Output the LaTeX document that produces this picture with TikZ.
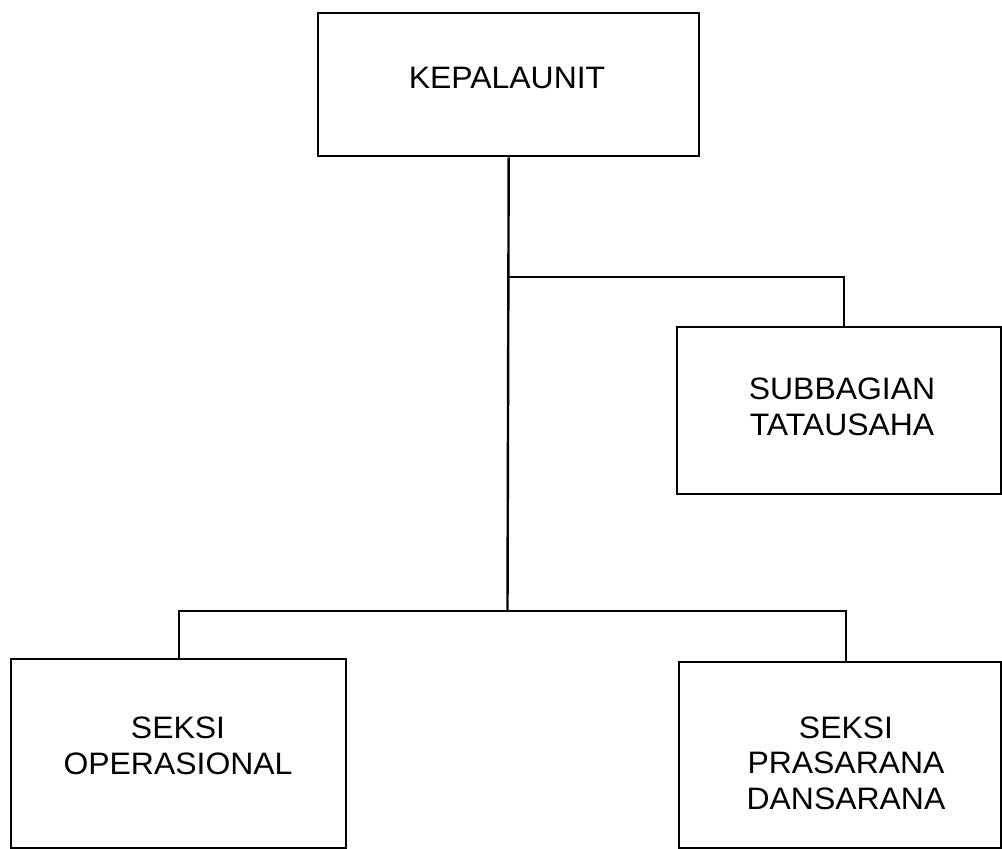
\documentclass[tikz,border=0pt]{standalone}
\usepackage{fontspec}
\setmainfont{Liberation Sans}[FakeStretch=1.03]
\begin{document}
\begin{tikzpicture}[x=1pt,y=-1pt,
  orgbox/.style={draw, line width=2.4pt, rectangle, anchor=north west, inner sep=0pt},
  lbl/.style={align=center, font=\fontsize{31}{35.5}\selectfont, inner sep=0pt},
  conn/.style={line width=2.4pt}]
\useasboundingbox (0,0) rectangle (1002,849);
\node[orgbox, minimum width=381pt, minimum height=143pt] (top) at (317,12) {};
\node[orgbox, minimum width=324pt, minimum height=167pt] (sub) at (676,326) {};
\node[orgbox, minimum width=335pt, minimum height=189pt] (ops) at (10,658) {};
\node[orgbox, minimum width=322pt, minimum height=186pt] (dan) at (678,661) {};
\node[lbl] (top-t) at (507,78) {KEPALAUNIT};
\node[lbl] (sub-t) at (842,407) {SUBBAGIAN\\TATAUSAHA};
\node[lbl] (ops-t) at (178,746) {SEKSI\\OPERASIONAL};
\node[lbl] (dan-t) at (846,763) {SEKSI\\PRASARANA\\DANSARANA};
\coordinate (j1) at (507.5,277);
\coordinate (j2) at (507.5,611);
\draw[conn] (top.south) -- (j2);
\draw[conn] (j1) -| ([xshift=5pt]sub.north);
\draw[conn] (ops.north) |- (j2) -| ([xshift=6pt]dan.north);
\end{tikzpicture}
\end{document}
